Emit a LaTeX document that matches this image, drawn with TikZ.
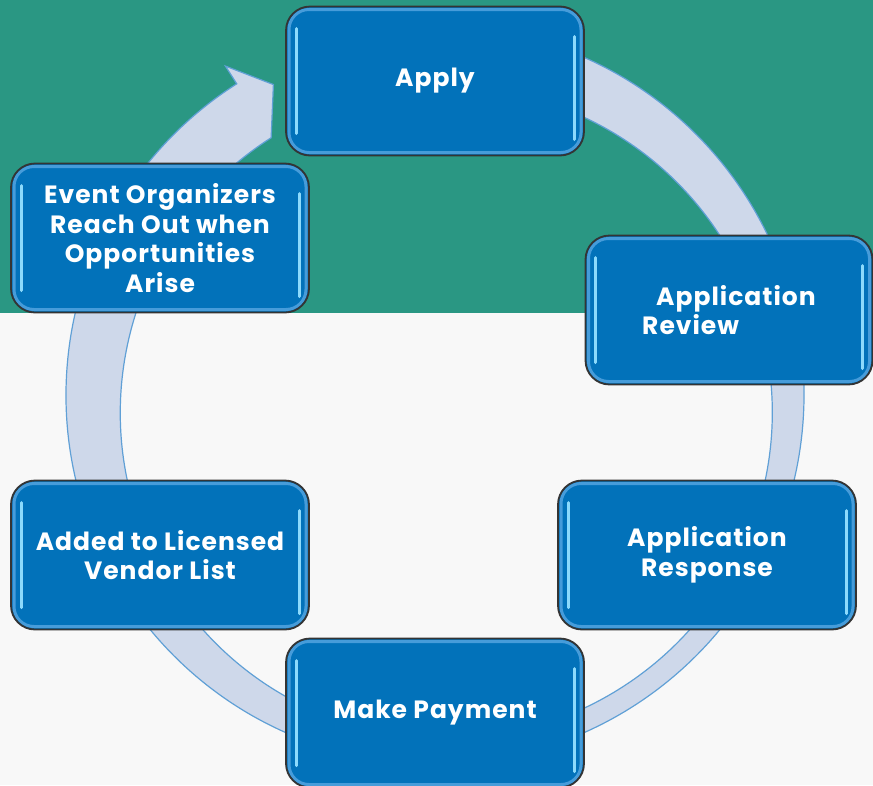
\documentclass[tikz,border=0pt]{standalone}
\usepackage{fontspec}
\setmainfont{Poppins}[LetterSpace=4]
\usetikzlibrary{positioning}
\usetikzlibrary{arrows.meta}

\definecolor{topband}{RGB}{42,151,131}
\definecolor{lowband}{RGB}{248,248,248}
\definecolor{ringfill}{RGB}{206,216,234}
\definecolor{ringline}{RGB}{96,160,214}
\definecolor{boxblue}{RGB}{2,114,186}
\definecolor{boxrim}{RGB}{70,156,218}
\definecolor{boxglow}{RGB}{140,218,252}
\definecolor{boxedge}{RGB}{52,52,52}

\tikzset{
  stage/.style={draw=boxedge, line width=1.8, fill=boxblue, rounded corners=24,
    minimum width=298, minimum height=149, inner sep=0, align=center,
    text=white, font=\fontsize{25}{29.5}\selectfont\bfseries,
    path picture={
      \draw[boxrim, line width=3, rounded corners=20]
        ([xshift=3pt,yshift=-3pt]path picture bounding box.north west) rectangle
        ([xshift=-3pt,yshift=3pt]path picture bounding box.south east);
      \draw[boxglow, line width=3, line cap=round]
        ([xshift=10pt,yshift=-22pt]path picture bounding box.north west) --
        ([xshift=10pt,yshift=22pt]path picture bounding box.south west);
      \draw[boxglow, line width=3, line cap=round]
        ([xshift=-10pt,yshift=-30pt]path picture bounding box.north east) --
        ([xshift=-10pt,yshift=16pt]path picture bounding box.south east);
    }},
}

\begin{document}
\begin{tikzpicture}[x=1pt,y=-1pt]
\useasboundingbox (0,0) rectangle (873,785);
\fill[lowband] (0,0) rectangle (873,785);
\fill[topband] (0,0) rectangle (873,313);

% cycle ring with arrow head
\begin{scope}[shift={(435,395)}]
\filldraw[fill=ringfill, draw=ringline, line width=1.2]
  (-85:369) arc[start angle=-85, end angle=237.5, radius=369]
  -- (237.5:390) -- (242.5:350) -- (237.5:305)
  arc[start angle=237.5, end angle=-85, radius=326] -- cycle;
\end{scope}

\node[stage] (apply) at (435,81) {Apply};
\node[stage, minimum width=287, align=left] (review) at (729,310) {\hspace*{14pt}Application\\Review};
\node[stage] (response) at (707,555) {Application\\Response};
\node[stage] (payment) at (435,713) {Make Payment};
\node[stage] (added) at (160,555) {Added to Licensed\\Vendor List};
\node[stage] (event) at (160,238) {Event Organizers\\Reach Out when\\Opportunities\\Arise};
\end{tikzpicture}
\end{document}
